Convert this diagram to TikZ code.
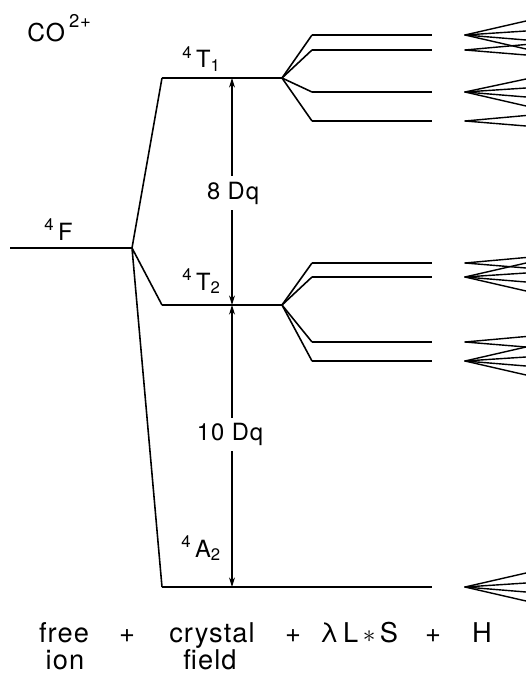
\documentclass[tikz,border=0pt]{standalone}
\usepackage{fontspec}
\setmainfont{TeX Gyre Heros}[LetterSpace=4]
\usetikzlibrary{arrows.meta, positioning}
\newcommand\lblsz{\fontsize{13.5}{15}\selectfont}
\newcommand\scrsz{\fontsize{9.5}{10}\selectfont}
\newcommand\spterm[3]{\raisebox{5.5pt}{\scrsz #1}\kern2.5pt#2\raisebox{-1.8pt}{\scrsz #3}}

\begin{document}
\begin{tikzpicture}[x=0.02cm, y=-0.02cm, font=\lblsz,
	lvl/.style={line width=1.1pt},
	split/.style={line width=0.9pt},
	fan/.style={line width=0.8pt, line cap=round},
	dq/.style={line width=0.6pt,
		{Stealth[length=5.5pt,width=3.4pt]}-{Stealth[length=5.5pt,width=3.4pt]}},
	lbl/.style={anchor=base west, inner sep=0pt},
	gap/.style={fill=white, inner sep=3pt},
	eqn/.style={anchor=base, inner sep=0pt, font=\fontsize{15.5}{18}\selectfont}]
	\useasboundingbox (0,0) rectangle (526,675);
	\node[lbl, font=\fontsize{14}{16}\selectfont] (co) at (27,42)
		{CO\,\raisebox{8.5pt}{\fontsize{10.5}{11}\selectfont 2+}};
	% ion libre
	\coordinate (F0) at (10,248);
	\coordinate (Fb) at (132,248);
	\draw[lvl] (F0) -- (Fb);
	\node[lbl] (lF) at (44,240) {\spterm{4}{F}{}};
	% campo cristalino
	\coordinate (T1a) at (162,78);  \coordinate (T1b) at (282,78);
	\coordinate (T2a) at (162,305); \coordinate (T2b) at (282,305);
	\coordinate (A2a) at (162,587); \coordinate (A2b) at (432,587);
	\draw[split] (Fb) -- (T1a) (Fb) -- (T2a) (Fb) -- (A2a);
	\draw[lvl] (T1a) -- (T1b) (T2a) -- (T2b) (A2a) -- (A2b);
	\node[lbl] (lT1) at (182,68) {\spterm{4}{T}{1}};
	\node[lbl] (lT2) at (182,290) {\spterm{4}{T}{2}};
	\node[lbl] (lA2) at (181,557) {\spterm{4}{A}{2}};
	% desdoblamiento Dq
	\coordinate (dq) at (232,0);
	\draw[dq] (dq |- T1a) -- (dq |- T2a);
	\draw[dq] (dq |- T2a) -- (dq |- A2a);
	\node[gap] (d8) at (233,193) {8 Dq};
	\node[gap] (d10) at (230,434) {10 Dq};
	% espin-orbita
	\foreach \y [count=\i] in {35,50,92,121}{
		\coordinate (s1c\i) at (312,\y); \coordinate (s1e\i) at (432,\y);
		\draw[split] (T1b) -- (s1c\i);
		\draw[lvl] (s1c\i) -- (s1e\i);}
	\foreach \y [count=\i] in {263,277,342,361}{
		\coordinate (s2c\i) at (312,\y); \coordinate (s2e\i) at (432,\y);
		\draw[split] (T2b) -- (s2c\i);
		\draw[lvl] (s2c\i) -- (s2e\i);}
	% Zeeman
	\foreach \y/\r in {35/{-14,-4,5,14}, 50/{-5.5,5}, 92/{-13,-4,5,14},
		121/{-5.5,5}, 263/{-5.5,5}, 277/{-14,-4,5,14}, 342/{-5.5,5},
		361/{-14,-4,5,14}, 587/{-14,-4,5,14}}{
		\coordinate (z\y) at (465,\y);
		\foreach \d in \r {\draw[fan] (z\y) -- ++(61,\d);}}
	% hamiltoniano
	\node[eqn] (free) at (64,642) {free};
	\node[eqn] (ionl) at (65,669) {ion};
	\node[eqn] (p1) at (127,642) {+};
	\node[eqn] (cry) at (212,642) {crystal};
	\node[eqn] (fld) at (210,669) {field};
	\node[eqn] (p2) at (293,642) {+};
	\node[eqn] (lso) at (359,642) {λ\,L\,$\ast$\,S};
	\node[eqn] (p3) at (433,642) {+};
	\node[eqn] (zee) at (482,642) {H};
\end{tikzpicture}
\end{document}
